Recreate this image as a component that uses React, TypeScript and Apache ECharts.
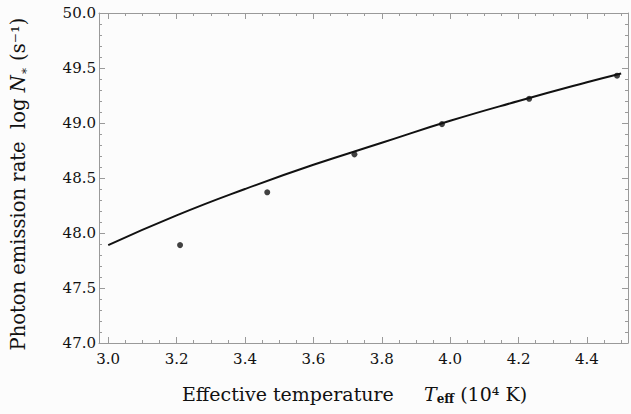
import React, { useEffect, useRef } from "react";
import * as echarts from "echarts";

// Model curve
const curveT = [3.0, 3.2, 3.4, 3.6, 3.8, 4.0, 4.2, 4.4, 4.5];
const curveLogN = [47.89, 48.16, 48.4, 48.62, 48.82, 49.02, 49.2, 49.37, 49.45];

// Data points
const pointT = [3.21, 3.465, 3.72, 3.976, 4.231, 4.488];
const pointLogN = [47.89, 48.37, 48.715, 48.99, 49.22, 49.43];

// Axis ranges / ticks
const xMin = 2.973;
const xMax = 4.52;
const yMin = 47;
const yMax = 50;
const yInterval = 0.5;

const FONT = "DejaVu Serif";
const FRAME = "#9a9a9a";
const TEXT = "#111";

export default function App() {
  const ref = useRef<HTMLDivElement>(null);
  useEffect(() => {
    if (!ref.current) return;
    const chart = echarts.init(ref.current, undefined, { renderer: "svg" });
    const xFmt = (v: number) => {
      const t = v * 10;
      const r = Math.round(t);
      if (Math.abs(t - r) > 1e-6 || r % 2 !== 0) return "";
      return v.toFixed(1);
    };
    const baseX = {
      type: "value" as const,
      min: xMin,
      max: xMax,
      splitNumber: 8,
      axisLine: { show: true, onZero: false, lineStyle: { color: FRAME, width: 1 } },
      axisTick: { show: true, inside: true, length: 6, lineStyle: { color: FRAME } },
      minorTick: { show: true, splitNumber: 4, length: 3, lineStyle: { color: FRAME } },
      splitLine: { show: false },
    };
    const baseY = {
      type: "value" as const,
      min: yMin,
      max: yMax,
      interval: yInterval,
      axisLine: { show: true, onZero: false, lineStyle: { color: FRAME, width: 1 } },
      axisTick: { show: true, inside: true, length: 6, lineStyle: { color: FRAME } },
      minorTick: { show: true, splitNumber: 5, length: 3, lineStyle: { color: FRAME } },
      splitLine: { show: false },
    };
    chart.setOption({
      animation: false,
      backgroundColor: "#fcfcfc",
      grid: { left: 99, right: 3, top: 13, bottom: 71, containLabel: false },
      xAxis: [
        {
          ...baseX,
          position: "bottom",
          axisLabel: {
            show: true,
            margin: 8,
            fontFamily: FONT,
            fontSize: 15,
            color: TEXT,
            formatter: xFmt,
          },
          name: "{a|Effective temperature     }{t|T}{s|eff}{a| (10⁴ K)}",
          nameLocation: "middle",
          nameGap: 39,
          nameTextStyle: {
            fontFamily: FONT,
            color: TEXT,
            padding: [0, 18, 0, 0],
            rich: {
              a: { fontFamily: FONT, fontSize: 19, color: TEXT, lineHeight: 23 },
              t: { fontFamily: FONT, fontSize: 19, fontStyle: "italic", color: TEXT, lineHeight: 23 },
              s: {
                fontFamily: FONT,
                fontSize: 12,
                fontWeight: "bold",
                color: TEXT,
                lineHeight: 14,
                verticalAlign: "bottom",
              },
            },
          },
        },
        {
          ...baseX,
          position: "top",
          axisLabel: { show: false },
        },
      ],
      yAxis: [
        {
          ...baseY,
          position: "left",
          axisLabel: {
            show: true,
            margin: 3,
            fontFamily: FONT,
            fontSize: 15,
            color: TEXT,
            formatter: (v: number) => v.toFixed(1),
          },
          name: "{a|Photon emission rate  log }{n|N}{s|∗}{a| (s⁻¹)}",
          nameLocation: "middle",
          nameRotate: 90,
          nameGap: 69,
          nameTextStyle: {
            fontFamily: FONT,
            color: TEXT,
            padding: [0, 12, 0, 0],
            rich: {
              a: { fontFamily: FONT, fontSize: 19.5, color: TEXT, lineHeight: 23 },
              n: { fontFamily: FONT, fontSize: 19.5, fontStyle: "italic", color: TEXT, lineHeight: 23 },
              s: {
                fontFamily: FONT,
                fontSize: 12,
                color: TEXT,
                lineHeight: 14,
                verticalAlign: "bottom",
              },
            },
          },
        },
        {
          ...baseY,
          position: "right",
          axisLabel: { show: false },
        },
      ],
      series: [
        {
          type: "line",
          data: curveT.map((t, i) => [t, curveLogN[i]]),
          smooth: true,
          showSymbol: false,
          lineStyle: { color: "#111", width: 2 },
          silent: true,
        },
        {
          type: "scatter",
          data: pointT.map((t, i) => [t, pointLogN[i]]),
          symbol: "circle",
          symbolSize: 6,
          itemStyle: { color: "#111" },
          silent: true,
        },
      ],
    });
    return () => chart.dispose();
  }, []);
  return (
    <div
      ref={ref}
      style={{ position: "fixed", left: 0, top: 0, width: 631, height: 414 }}
    />
  );
}
